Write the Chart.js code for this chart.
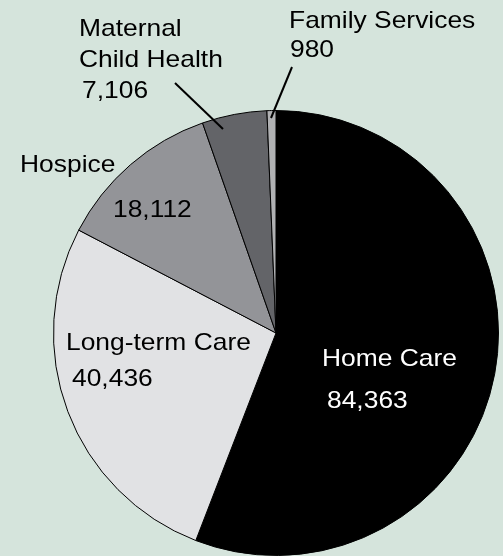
<!DOCTYPE html>
<html>
<head>
<meta charset="utf-8">
<script src="https://cdn.jsdelivr.net/npm/chart.js@4"></script>
<style>
  html, body { margin: 0; padding: 0; background: #d5e4dc; }
  #wrap { width: 503px; height: 556px; position: relative; }
</style>
</head>
<body>
<div id="wrap"><canvas id="c" width="503" height="556"></canvas></div>
<script>
const categories = ["Home Care", "Long-term Care", "Hospice", "Maternal Child Health", "Family Services"];
const values = [84363, 40436, 18112, 7106, 980];
const valueLabels = ["84,363", "40,436", "18,112", "7,106", "980"];
const sliceColors = ["#000000", "#e1e2e4", "#939498", "#636468", "#b0b1b3"];

// label text lines per slice (name lines, then value)
const labelLayout = [
  { lines: [["Home Care", 322, 366], ["84,363", 327, 408]], color: "#ffffff" },
  { lines: [["Long-term Care", 66, 350], ["40,436", 72, 386]], color: "#000000" },
  { lines: [["Hospice", 20, 172], ["18,112", 113, 217]], color: "#000000" },
  { lines: [["Maternal", 79, 36], ["Child Health", 79, 67], ["7,106", 82, 98]], color: "#000000",
    leader: [175, 83, 223, 129] },
  { lines: [["Family Services", 289, 28], ["980", 290, 57]], color: "#000000",
    leader: [292, 67, 271, 118] }
];

const labelPlugin = {
  id: 'sliceLabels',
  afterDatasetsDraw(chart) {
    const ctx = chart.ctx;
    labelLayout.forEach((l, i) => {
      ctx.save();
      ctx.font = '24px "Liberation Sans", Arial, sans-serif';
      ctx.textBaseline = 'alphabetic';
      ctx.textAlign = 'left';
      ctx.fillStyle = l.color;
      l.lines.forEach(([t, x, y]) => {
        ctx.save();
        ctx.translate(x, y);
        ctx.scale(1.1, 1);
        ctx.fillText(t, 0, 0);
        ctx.restore();
      });
      if (l.leader) {
        ctx.strokeStyle = '#000';
        ctx.lineWidth = 2;
        ctx.beginPath();
        ctx.moveTo(l.leader[0], l.leader[1]);
        ctx.lineTo(l.leader[2], l.leader[3]);
        ctx.stroke();
      }
      ctx.restore();
    });
  }
};

new Chart(document.getElementById('c'), {
  type: 'pie',
  data: {
    labels: categories,
    datasets: [{
      data: values,
      backgroundColor: sliceColors,
      borderColor: '#000000',
      borderWidth: 1
    }]
  },
  options: {
    responsive: false,
    animation: false,
    layout: { padding: { left: 53, right: 4, top: 110, bottom: 0 } },
    plugins: {
      legend: { display: false },
      tooltip: { enabled: false }
    }
  },
  plugins: [labelPlugin]
});
</script>
</body>
</html>
